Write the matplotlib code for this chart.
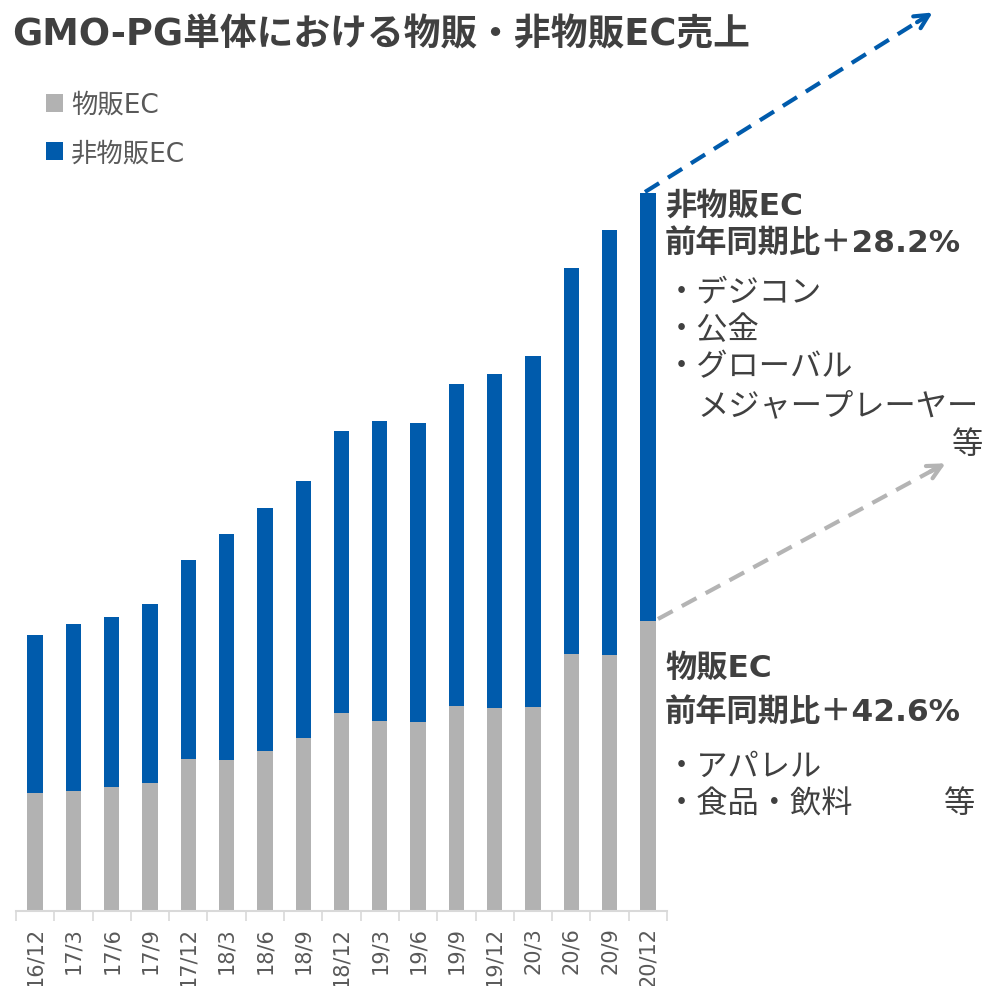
import matplotlib
matplotlib.use("Agg")
import matplotlib.pyplot as plt
import numpy as np

plt.rcParams['font.family'] = ['DejaVu Sans', 'Noto Sans CJK JP']

# data (arbitrary units, stacked)
quarters = ["16/12", "17/3", "17/6", "17/9", "17/12", "18/3", "18/6", "18/9", "18/12",
            "19/3", "19/6", "19/9", "19/12", "20/3", "20/6", "20/9", "20/12"]
goods_ec = [118, 120, 124, 128, 152, 151, 160, 173, 198, 190, 189, 205, 203, 204, 257, 256, 290]
non_goods_ec = [158, 167, 170, 179, 199, 226, 243, 257, 282, 300, 299, 322, 334, 351, 386, 425, 428]

gray = "#b2b2b2"
blue = "#005bac"
dark = "#404040"
W, H = 983, 987

fig = plt.figure(figsize=(W / 100, H / 100), dpi=100)
ax = fig.add_axes([16 / W, 75 / H, (667 - 16) / W, 912 / H])

x = np.arange(len(quarters))
ax.bar(x, goods_ec, width=0.4, color=gray, label="物販EC")
ax.bar(x, non_goods_ec, width=0.4, bottom=goods_ec, color=blue, label="非物販EC")

ax.set_xlim(-0.5, len(quarters) - 0.5)
ax.set_ylim(0, 912)
for s in ["top", "right", "left"]:
    ax.spines[s].set_visible(False)
ax.spines["bottom"].set_color("#d9d9d9")
ax.spines["bottom"].set_linewidth(1.5)
ax.set_yticks([])
ax.set_xticks(x)
ax.set_xticklabels(quarters, rotation=90, fontsize=15, color="#595959")
ax.tick_params(axis="x", which="major", length=0, pad=11)
ax.set_xticks(np.arange(-0.5, len(quarters)), minor=True)
ax.tick_params(axis="x", which="minor", length=7, width=1.2, color="#d9d9d9")


def fx(px):
    return px / W


def fy(py):
    return 1 - py / H


# title
fig.text(fx(12), fy(35), "GMO-PG単体における物販・非物販EC売上", fontsize=26.5,
         fontweight="bold", color=dark, va="center")

# legend
handles, labels = ax.get_legend_handles_labels()
fig.legend(handles, labels, loc="upper left", bbox_to_anchor=(fx(46), fy(93)),
           frameon=False, fontsize=19, labelcolor="#595959", handlelength=0.65,
           handleheight=0.65, handletextpad=0.3, labelspacing=0.85,
           borderpad=0, borderaxespad=0)

# arrows
def dashed_arrow(start, end, color):
    sx, sy = fx(start[0]), fy(start[1])
    ex, ey = fx(end[0]), fy(end[1])
    fig.add_artist(plt.Line2D([sx, sx + (ex - sx) * 0.96], [sy, sy + (ey - sy) * 0.96],
                              transform=fig.transFigure, color=color, lw=3,
                              linestyle=(0, (4, 2.5))))
    fig.add_artist(matplotlib.patches.FancyArrowPatch(
        (sx + (ex - sx) * 0.93, sy + (ey - sy) * 0.93), (ex, ey),
        transform=fig.transFigure, arrowstyle="->", mutation_scale=25,
        color=color, lw=3))


dashed_arrow((645, 193), (935, 12), blue)
dashed_arrow((658, 620), (948, 463), "#b4b4b4")

# annotations
hs, bs = 22.5, 22.5
fig.text(fx(665), fy(206), "非物販EC", fontsize=hs, fontweight="bold", color=dark, va="center")
fig.text(fx(665), fy(243), "前年同期比＋28.2%", fontsize=hs, fontweight="bold", color=dark, va="center")
for yy, t in [(293, "・デジコン"), (330, "・公金"), (368, "・グローバル")]:
    fig.text(fx(666), fy(yy), t, fontsize=bs, color=dark, va="center")
fig.text(fx(697), fy(407), "メジャープレーヤー", fontsize=bs, color=dark, va="center")
fig.text(fx(983), fy(445), "等", fontsize=bs, color=dark, va="center", ha="right")

fig.text(fx(665), fy(668), "物販EC", fontsize=hs, fontweight="bold", color=dark, va="center")
fig.text(fx(665), fy(712), "前年同期比＋42.6%", fontsize=hs, fontweight="bold", color=dark, va="center")
fig.text(fx(666), fy(767), "・アパレル", fontsize=bs, color=dark, va="center")
fig.text(fx(666), fy(805), "・食品・飲料", fontsize=bs, color=dark, va="center")
fig.text(fx(975), fy(805), "等", fontsize=bs, color=dark, va="center", ha="right")

fig.savefig("out.png", dpi=100)
